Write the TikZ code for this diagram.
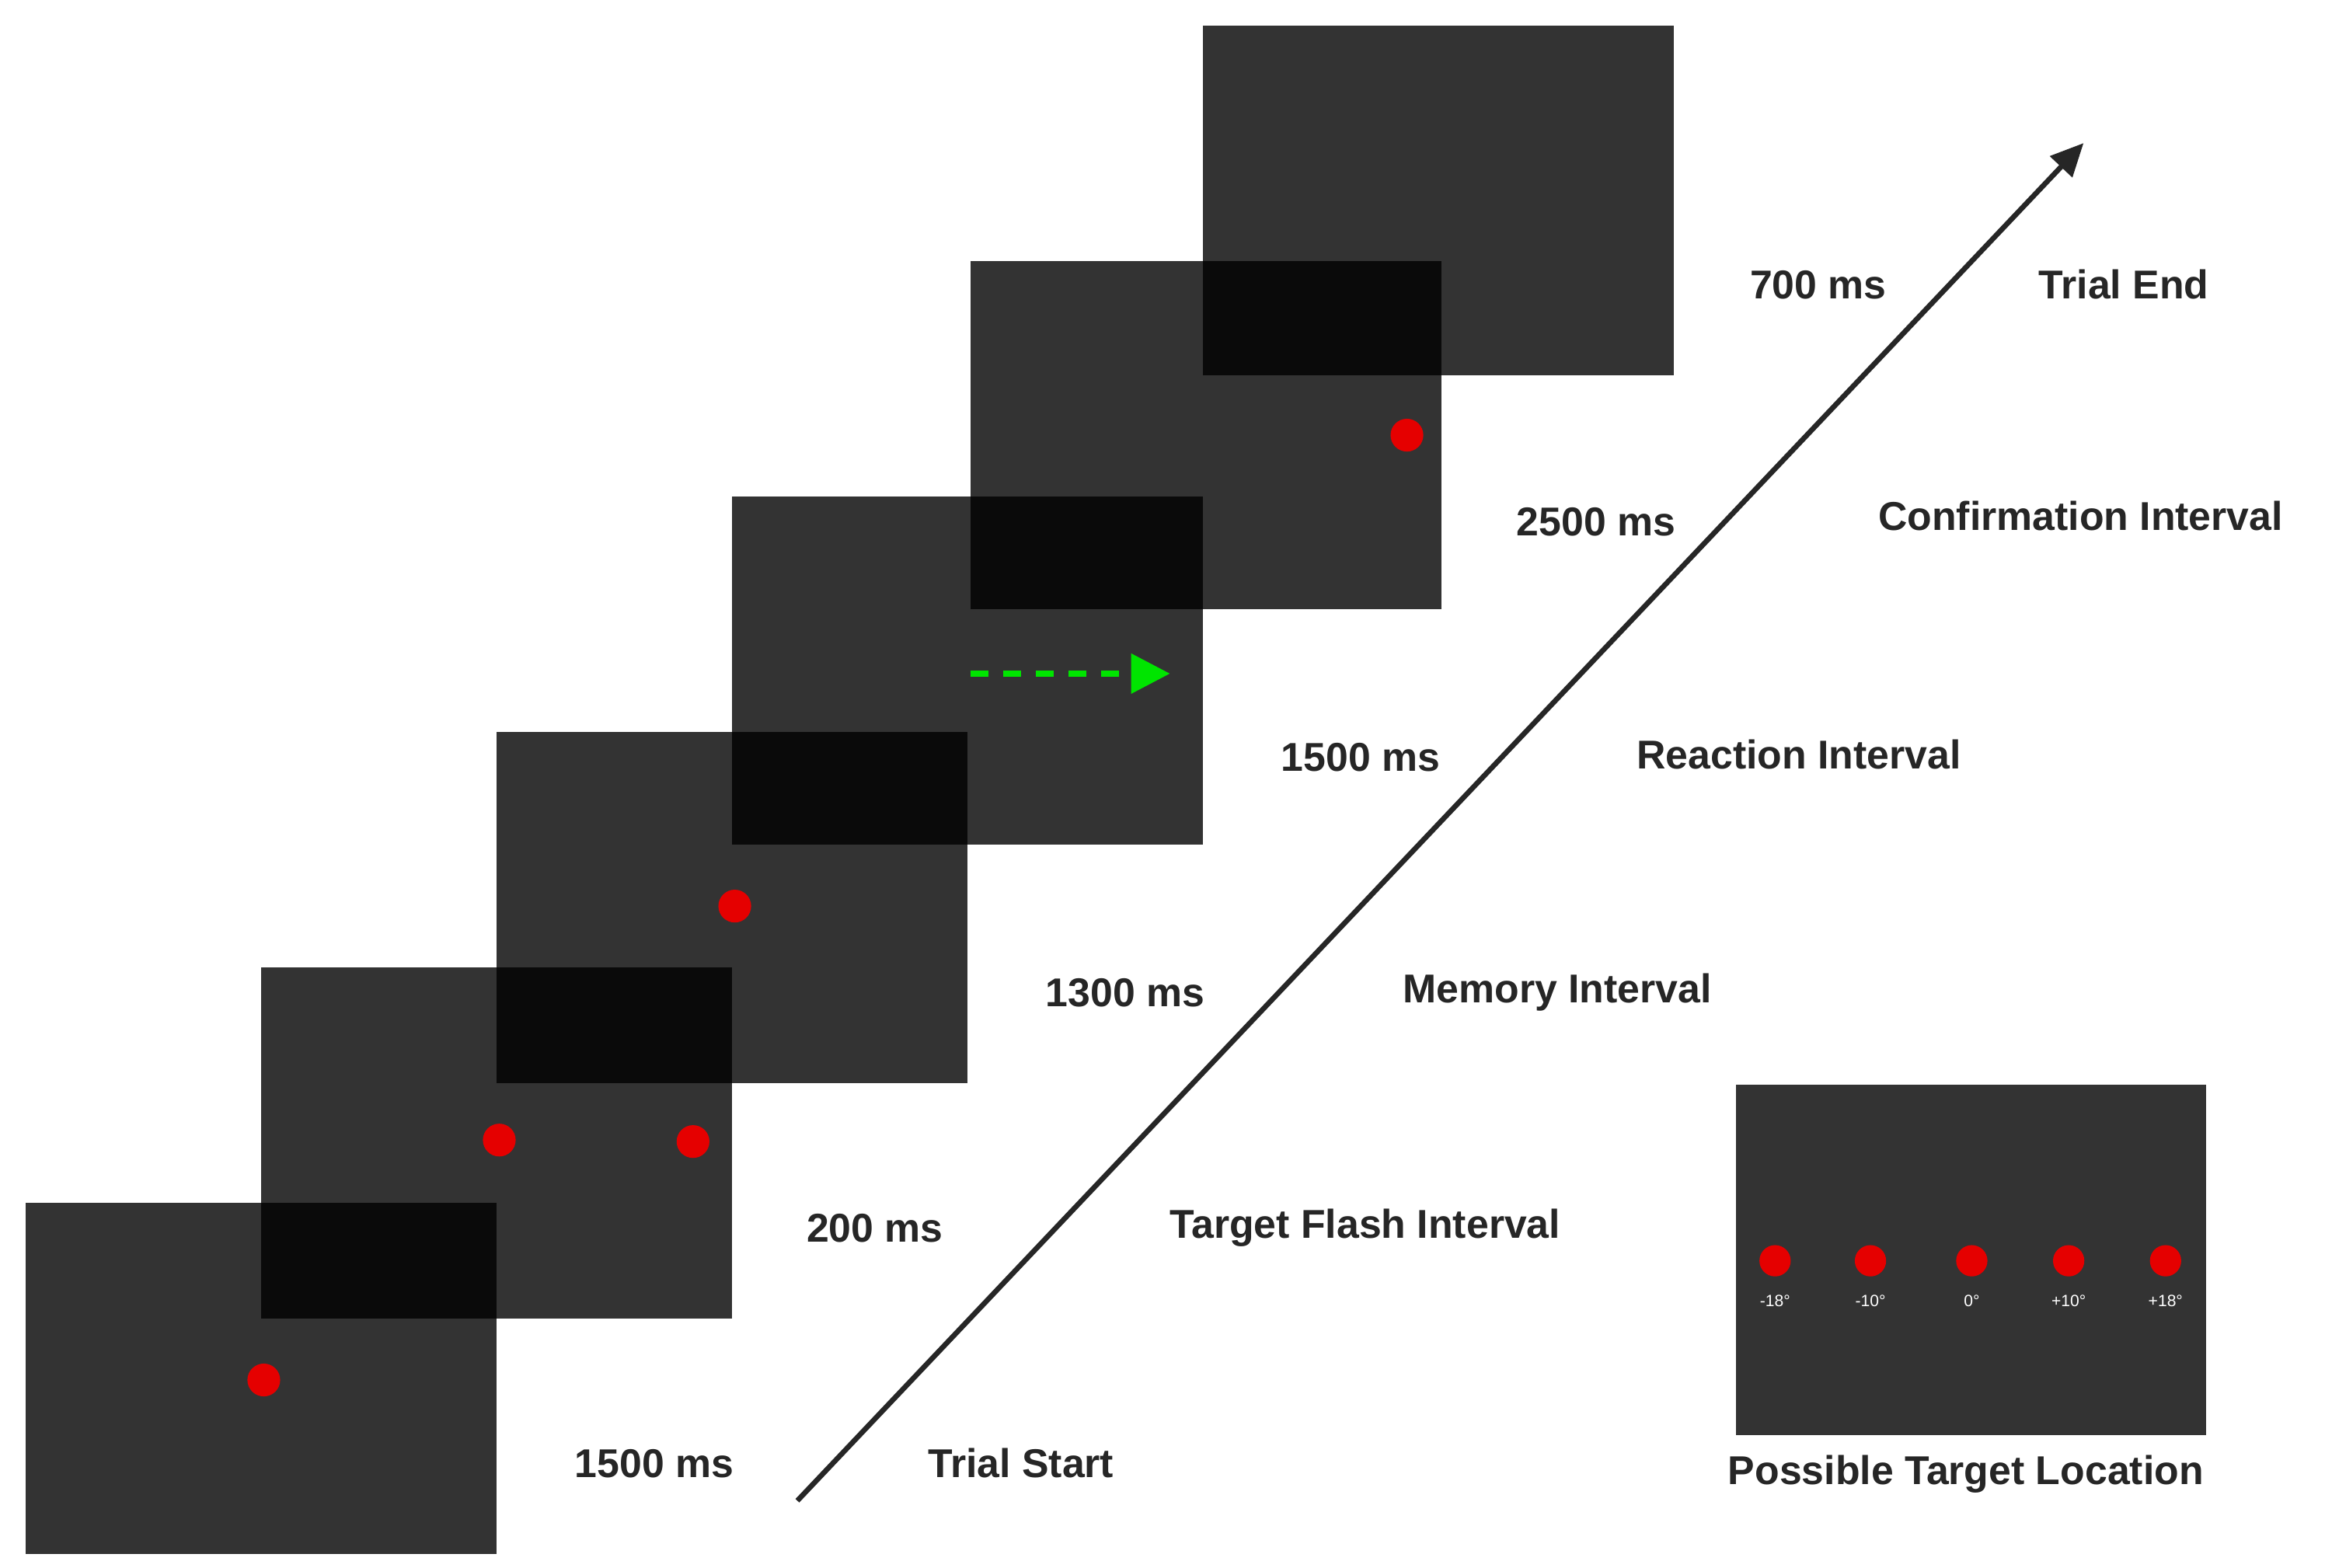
\documentclass[tikz,border=0pt]{standalone}
\usepackage{fontspec}
\setmainfont{Liberation Sans}
\usetikzlibrary{arrows.meta}
\begin{document}
\begin{tikzpicture}[x=1pt,y=-1pt,
 scr/.style={fill=black,fill opacity=0.8,draw=none},
 dot/.style={circle,fill=red!90!black,minimum size=22pt,inner sep=0pt},
 sdot/.style={circle,fill=red!90!black,minimum size=21pt,inner sep=0pt},
 lab/.style={font=\fontsize{27}{30}\selectfont\bfseries,text=black!85},
 deg/.style={font=\fontsize{11}{12}\selectfont,text=white}]
\useasboundingbox (0,0) rectangle (1560,1052);
\fill[scr] (17,807) rectangle (333,1043);
\fill[scr] (175,649) rectangle (491,885);
\fill[scr] (333,491) rectangle (649,727);
\fill[scr] (491,333) rectangle (807,567);
\fill[scr] (651,175) rectangle (967,409);
\fill[scr] (807,17) rectangle (1123,252);
\node[dot] (d1) at (177,926) {};
\node[dot] (d2) at (335,765) {};
\node[dot] (d3) at (465,766) {};
\node[dot] (d4) at (493,608) {};
\node[dot] (d5) at (944,292) {};
\coordinate (g1) at (651,452);
\coordinate (g2) at (785,452);
\draw[green!90!black,line width=4pt,dash pattern=on 12pt off 10pt,-{Triangle[length=26pt,width=26pt]}] (g1) -- (g2);
\coordinate (a1) at (535,1007);
\coordinate (a2) at (1398,96);
\draw[black!85,line width=3.5pt,-{Triangle[length=22pt,width=20pt]}] (a1) -- (a2);
\node[lab] (t1) at (439,982) {1500 ms};
\node[lab] (l1) at (685,982) {Trial Start};
\node[lab] (t2) at (587,824) {200 ms};
\node[lab] (l2) at (916,824) {Target Flash Interval};
\node[lab] (t3) at (755,666) {1300 ms};
\node[lab] (l3) at (1045,666) {Memory Interval};
\node[lab] (t4) at (913,508) {1500 ms};
\node[lab] (l4) at (1207,506) {Reaction Interval};
\node[lab] (t5) at (1071,350) {2500 ms};
\node[lab] (l5) at (1396,346) {Confirmation Interval};
\node[lab] (t6) at (1220,191) {700 ms};
\node[lab] (l6) at (1425,191) {Trial End};
\fill[black!80] (1165,728) rectangle (1480,963);
\foreach \x/\t [count=\i] in {1191/-18°,1255/-10°,1323/0°,1388/+10°,1453/+18°}{
 \node[sdot] (p\i) at (\x,846) {};
 \node[deg] (q\i) at (\x,873) {\t};
}
\node[lab] (pt) at (1319,989) {Possible Target Location};
\end{tikzpicture}
\end{document}
